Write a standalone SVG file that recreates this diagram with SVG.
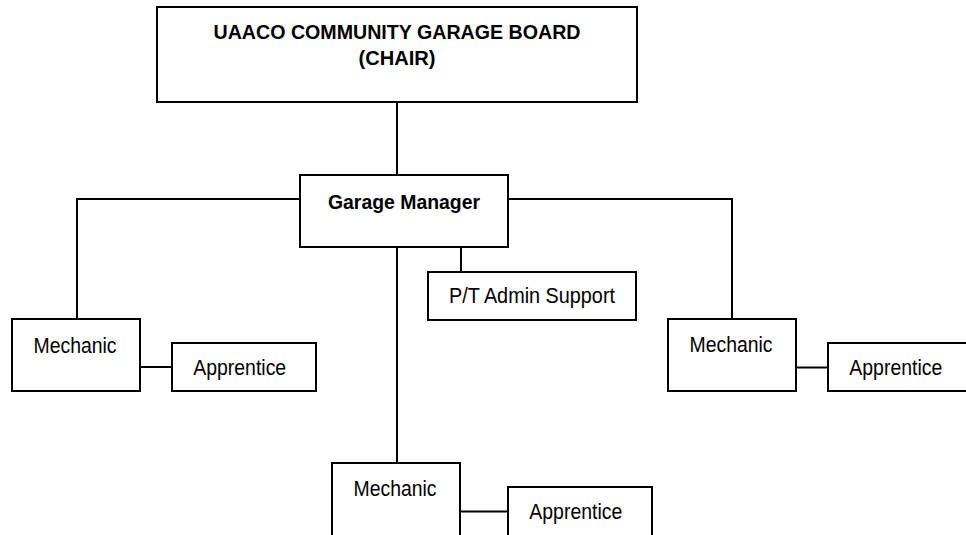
<svg xmlns="http://www.w3.org/2000/svg" width="966" height="535" viewBox="0 0 966 535">
<style>
.box{fill:#fff;stroke:#000;stroke-width:2}
.ln{fill:none;stroke:#000;stroke-width:2}
text{font-family:"Liberation Sans",Arial,sans-serif;font-size:21.5px;fill:#000;text-anchor:middle}
.b{font-weight:bold;font-size:20px}
</style>
<rect width="966" height="535" fill="#fff"/>
<g id="connectors">
<line class="ln" x1="397" y1="102" x2="397" y2="175"/>
<polyline class="ln" points="300,199 77,199 77,319"/>
<polyline class="ln" points="508,199 732,199 732,319"/>
<line class="ln" x1="397" y1="247" x2="397" y2="463"/>
<line class="ln" x1="461" y1="247" x2="461" y2="272"/>
<line class="ln" x1="140" y1="367" x2="172" y2="367"/>
<line class="ln" x1="461" y1="511.5" x2="508" y2="511.5"/>
<line class="ln" x1="796" y1="367.5" x2="828" y2="367.5"/>
</g>
<g id="board">
<rect class="box" x="157" y="7" width="480" height="95"/>
<text class="b" x="397" y="39" textLength="367" lengthAdjust="spacingAndGlyphs">UAACO COMMUNITY GARAGE BOARD</text>
<text class="b" x="397" y="65" textLength="77" lengthAdjust="spacingAndGlyphs">(CHAIR)</text>
</g>
<g id="manager">
<rect class="box" x="300" y="175" width="208" height="72"/>
<text class="b" x="404" y="209" textLength="152" lengthAdjust="spacingAndGlyphs">Garage Manager</text>
</g>
<g id="admin">
<rect class="box" x="428" y="272" width="208" height="48"/>
<text x="532" y="303" textLength="166" lengthAdjust="spacingAndGlyphs">P/T Admin Support</text>
</g>
<g id="mechanic-left">
<rect class="box" x="12" y="319" width="128" height="72"/>
<text x="75" y="352.5" textLength="83" lengthAdjust="spacingAndGlyphs">Mechanic</text>
</g>
<g id="apprentice-left">
<rect class="box" x="172" y="343" width="144" height="48"/>
<text x="239.7" y="375" textLength="93" lengthAdjust="spacingAndGlyphs">Apprentice</text>
</g>
<g id="mechanic-center">
<rect class="box" x="332" y="463" width="128" height="74"/>
<text x="395" y="496" textLength="83" lengthAdjust="spacingAndGlyphs">Mechanic</text>
</g>
<g id="apprentice-center">
<rect class="box" x="508" y="487" width="144" height="50"/>
<text x="575.8" y="519.3" textLength="93" lengthAdjust="spacingAndGlyphs">Apprentice</text>
</g>
<g id="mechanic-right">
<rect class="box" x="668" y="319" width="128" height="72"/>
<text x="731" y="351.7" textLength="83" lengthAdjust="spacingAndGlyphs">Mechanic</text>
</g>
<g id="apprentice-right">
<rect class="box" x="828" y="343" width="144" height="48"/>
<text x="895.8" y="375" textLength="93" lengthAdjust="spacingAndGlyphs">Apprentice</text>
</g>
</svg>
